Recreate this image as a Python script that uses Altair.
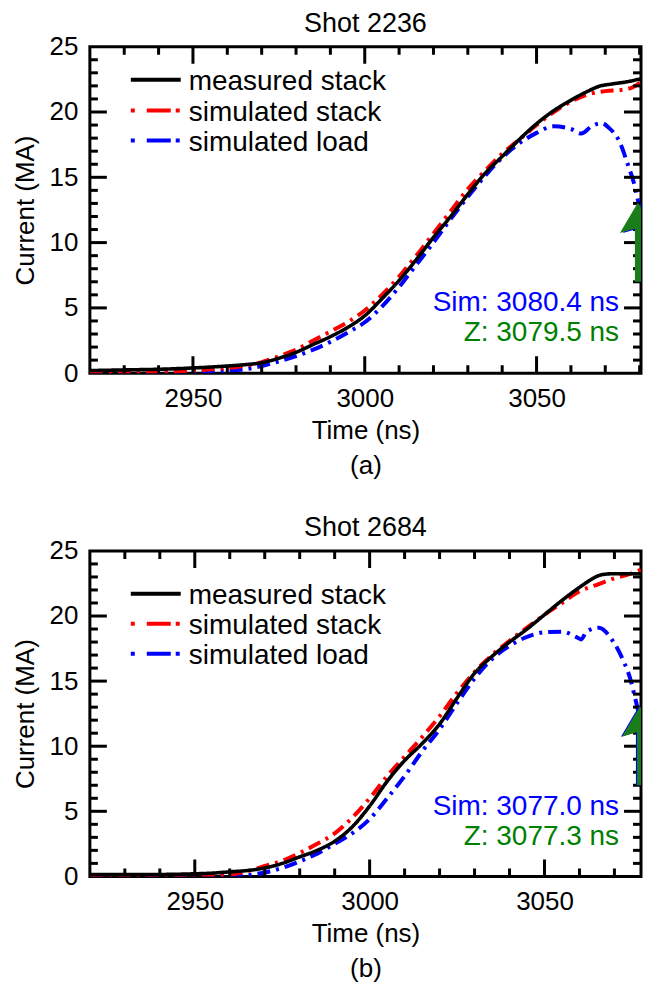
import altair as alt
import pandas as pd

FONT = "Liberation Sans"
series_names = ["measured stack", "simulated stack", "simulated load"]
series_colors = ["#000000", "#ff0000", "#0000ff"]
series_dash = [[1, 0], [13, 6, 3, 6], [13, 6, 3, 6]]
legend_dash = [[1, 0], [4, 12, 24, 5, 4, 10], [4, 12, 24, 5, 4, 10]]
green = "#1a7d1a"

# ---- Shot 2236 (a)
a_title = "Shot 2236"
a_domain = [2920, 3080.4]
a_meas_t = [2920, 2930, 2940, 2950, 2960, 2965, 2970, 2975, 2980, 2985, 2990, 2995, 3000, 3005, 3010, 3015,
            3020, 3025, 3030, 3035, 3040, 3045, 3050, 3055, 3060, 3065, 3068, 3072, 3076, 3080.4]
a_meas_i = [0.2, 0.25, 0.3, 0.4, 0.55, 0.65, 0.8, 1.15, 1.6, 2.2, 2.8, 3.5, 4.4, 5.7, 7.1, 8.7,
            10.4, 12.0, 13.7, 15.3, 16.6, 17.9, 19.1, 20.1, 20.9, 21.6, 21.95, 22.15, 22.3, 22.55]
a_ssim_t = [2920, 2940, 2950, 2960, 2965, 2970, 2975, 2980, 2985, 2990, 2995, 3000, 3005, 3010, 3015, 3020,
            3025, 3030, 3035, 3040, 3045, 3050, 3055, 3060, 3065, 3070, 3075, 3078, 3080.4]
a_ssim_i = [0.05, 0.1, 0.2, 0.4, 0.55, 0.85, 1.3, 1.8, 2.5, 3.2, 3.9, 4.8, 6.0, 7.4, 9.0, 10.7,
            12.4, 14.1, 15.5, 16.8, 17.9, 19.0, 20.0, 20.8, 21.35, 21.6, 21.7, 21.9, 22.3]
a_load_t = [2920, 2950, 2960, 2965, 2970, 2975, 2980, 2985, 2990, 2995, 3000, 3005, 3010, 3015, 3020, 3025,
            3030, 3035, 3040, 3045, 3050, 3055, 3060, 3063, 3066, 3069, 3071, 3074, 3076.8, 3078.3, 3079.7, 3080.4]
a_load_i = [0.05, 0.1, 0.2, 0.3, 0.55, 0.9, 1.3, 1.8, 2.4, 3.1, 3.9, 5.1, 6.6, 8.3, 10.0, 11.8,
            13.5, 15.1, 16.5, 17.6, 18.4, 18.9, 18.7, 18.35, 18.9, 19.15, 18.8, 17.8, 15.8, 14.6, 13.0, 12.2]
a_sim_time = 3080.4
a_z_time = 3079.5
a_label = "(a)"
a_legend_rows = [33, 64, 94]

# ---- Shot 2684 (b)
b_title = "Shot 2684"
b_domain = [2920, 3077.6]
b_meas_t = [2920, 2930, 2940, 2950, 2955, 2960, 2965, 2970, 2975, 2980, 2985, 2990, 2995, 3000, 3005, 3010,
            3015, 3020, 3025, 3030, 3035, 3040, 3045, 3050, 3055, 3060, 3063, 3065, 3067, 3070, 3077.6]
b_meas_i = [0.15, 0.15, 0.15, 0.2, 0.25, 0.35, 0.45, 0.65, 1.0, 1.5, 2.0, 2.7, 3.8, 5.4, 7.3, 8.9,
            10.2, 11.7, 13.7, 15.6, 16.9, 18.0, 19.0, 20.1, 21.2, 22.2, 22.75, 23.05, 23.2, 23.25, 23.25]
b_ssim_t = [2920, 2950, 2960, 2965, 2970, 2975, 2980, 2985, 2990, 2995, 3000, 3005, 3010, 3015, 3020, 3025,
            3030, 3035, 3040, 3045, 3050, 3055, 3060, 3065, 3070, 3074, 3077.6]
b_ssim_i = [0.05, 0.05, 0.15, 0.4, 0.8, 1.2, 1.8, 2.5, 3.3, 4.5, 6.0, 7.7, 9.2, 10.7, 12.3, 14.1,
            15.7, 17.0, 18.1, 19.1, 20.1, 21.0, 21.9, 22.4, 22.9, 23.2, 23.55]
b_load_t = [2920, 2960, 2965, 2970, 2975, 2980, 2985, 2990, 2995, 3000, 3005, 3010, 3015, 3020, 3025, 3030,
            3035, 3040, 3045, 3050, 3055, 3059, 3060.5, 3062, 3065.5, 3069.5, 3072.5, 3074.5, 3076, 3077.6]
b_load_i = [0.05, 0.05, 0.1, 0.3, 0.65, 1.15, 1.75, 2.5, 3.3, 4.4, 6.0, 7.7, 9.6, 11.3, 13.3, 15.2,
            16.7, 17.7, 18.4, 18.75, 18.8, 18.4, 18.2, 18.8, 19.1, 18.1, 16.6, 15.2, 13.6, 11.8]
b_sim_time = 3077.0
b_z_time = 3077.3
b_label = "(b)"
b_legend_rows = [43, 73, 103]

# ---- axes / ticks / arrows
x_major = [2950, 3000, 3050]
x_minor = [2930, 2940, 2960, 2970, 2980, 2990, 3010, 3020, 3030, 3040, 3060, 3070, 3080]
y_major = [5, 10, 15, 20]
y_labels = [0, 5, 10, 15, 20, 25]
y_minor = [v for v in range(1, 25) if v % 5 != 0]
arrow_base = 7.0
arrow_shaft_top = 11.4
arrow_head = 11.9
sim_text_y = 5.35
z_text_y = 3.05

W, H = 552, 327
MAJ, MIN = 17, 8
head_path = "M0,-0.85L1,0.85L0,0.55L-1,0.85Z"


def panel(title, domain, meas, ssim, load, sim_time, z_time, label, height, legend_rows):
    rows = []
    for name, (ts, vs) in zip(series_names, [meas, ssim, load]):
        for t, v in zip(ts, vs):
            if domain[0] <= t <= domain[1]:
                rows.append({"t": t, "I": v, "series": name})
    df = pd.DataFrame(rows)
    xs = alt.Scale(domain=domain, nice=False, zero=False)
    ys = alt.Scale(domain=[0, 25], nice=False, zero=False)
    color = alt.Color("series:N", scale=alt.Scale(domain=series_names, range=series_colors), legend=None)
    dash = alt.StrokeDash("series:N", scale=alt.Scale(domain=series_names, range=series_dash), legend=None)

    xaxis = alt.Axis(values=x_major, title=["Time (ns)", label], titleLineHeight=35, format="d",
                     labelPadding=12, titlePadding=6)
    yaxis = alt.Axis(values=y_labels, title="Current (MA)", labelPadding=12, titlePadding=11)

    lines = []
    for k, name in enumerate(["simulated load", "simulated stack", "measured stack"]):
        enc = dict(
            x=alt.X("t:Q", scale=xs, axis=xaxis) if k == 0 else alt.X("t:Q", scale=xs),
            y=alt.Y("I:Q", scale=ys, axis=yaxis) if k == 0 else alt.Y("I:Q", scale=ys),
            color=color, strokeDash=dash, order=alt.Order("t:Q"))
        lines.append(
            alt.Chart(df[df.series == name]).mark_line(strokeWidth=4 if name != "measured stack" else 3.6,
                                                       clip=True, interpolate="monotone").encode(**enc))

    xmaj = pd.DataFrame({"t": [v for v in x_major if domain[0] <= v <= domain[1]]})
    xmin = pd.DataFrame({"t": [v for v in x_minor if domain[0] <= v <= domain[1]]})
    ymaj = pd.DataFrame({"I": y_major})
    ymin = pd.DataFrame({"I": y_minor})
    tick_layers = []
    for d, L in [(xmaj, MAJ), (xmin, MIN)]:
        for y0, y1 in [(height, height - L), (0, L)]:
            tick_layers.append(alt.Chart(d).mark_rule(strokeWidth=3, color="black", clip=True).encode(
                x=alt.X("t:Q", scale=xs), y=alt.value(y0), y2=alt.value(y1)))
    for d, L in [(ymaj, MAJ), (ymin, MIN)]:
        for x0, x1 in [(0, L), (W, W - L)]:
            tick_layers.append(alt.Chart(d).mark_rule(strokeWidth=3, color="black").encode(
                y=alt.Y("I:Q", scale=ys), x=alt.value(x0), x2=alt.value(x1)))

    # legend (drawn inside the plot, top-left)
    legend_layers = []
    for name, col, dsh, ry in zip(series_names, series_colors, legend_dash, legend_rows):
        ld = pd.DataFrame({"series": [name]})
        legend_layers.append(alt.Chart(ld).mark_rule(strokeWidth=4, color=col, strokeDash=dsh).encode(
            x=alt.value(41), x2=alt.value(91), y=alt.value(ry)))
        legend_layers.append(alt.Chart(ld).mark_text(
            align="left", baseline="middle", dy=2, fontSize=28, font=FONT, color="black").encode(
            x=alt.value(99), y=alt.value(ry), text="series:N"))

    arrows = pd.DataFrame({"t": [sim_time, z_time], "who": ["sim", "z"],
                           "I": [arrow_base] * 2, "I2": [arrow_shaft_top] * 2})
    heads = pd.DataFrame({"t": [sim_time, z_time], "who": ["sim", "z"], "I": [arrow_head] * 2})
    arrow_layers = []
    for who, col in [("sim", "#0000ff"), ("z", green)]:
        arrow_layers.append(alt.Chart(arrows[arrows.who == who]).mark_rule(
            strokeWidth=6, color=col, clip=True).encode(
            x=alt.X("t:Q", scale=xs), y=alt.Y("I:Q", scale=ys), y2="I2:Q"))
        arrow_layers.append(alt.Chart(heads[heads.who == who]).mark_point(
            shape=head_path, filled=True, size=1300, opacity=1, color=col, clip=True).encode(
            x=alt.X("t:Q", scale=xs), y=alt.Y("I:Q", scale=ys)))

    texts = pd.DataFrame({"t": [domain[1], domain[1]], "I": [sim_text_y, z_text_y],
                          "s": [f"Sim: {sim_time:.1f} ns", f"Z: {z_time:.1f} ns"]})
    text_layers = []
    for i, col in enumerate(["#0000ff", "#008000"]):
        text_layers.append(alt.Chart(texts.iloc[[i]]).mark_text(
            align="right", baseline="middle", dx=-22, fontSize=28, font=FONT, color=col).encode(
            x=alt.X("t:Q", scale=xs), y=alt.Y("I:Q", scale=ys), text="s:N"))

    title_layer = alt.Chart(pd.DataFrame({"s": [title]})).mark_text(
        align="center", baseline="middle", fontSize=27, font=FONT, color="black").encode(
        x=alt.value(W / 2), y=alt.value(-22.5), text="s:N")

    return alt.layer(*lines, *tick_layers, *legend_layers, *arrow_layers, *text_layers,
                     title_layer).properties(width=W, height=height)


top = panel(a_title, a_domain, (a_meas_t, a_meas_i), (a_ssim_t, a_ssim_i), (a_load_t, a_load_i),
            a_sim_time, a_z_time, a_label, H, a_legend_rows)
bot = panel(b_title, b_domain, (b_meas_t, b_meas_i), (b_ssim_t, b_ssim_i), (b_load_t, b_load_i),
            b_sim_time, b_z_time, b_label, 326, b_legend_rows)

chart = alt.vconcat(top, bot, spacing=33).resolve_scale(
    x="independent", color="independent", strokeDash="independent"
).properties(
    padding={"left": 2, "top": 0, "right": 0, "bottom": 0}, background="white"
).configure_view(stroke="black", strokeWidth=3).configure_axis(
    labelFont=FONT, titleFont=FONT, labelFontSize=26, titleFontSize=26, titleFontWeight="normal",
    labelColor="black", titleColor="black", ticks=False, domain=False, grid=False
)

chart.save("out.html", embed_options={"renderer": "svg", "actions": False})
